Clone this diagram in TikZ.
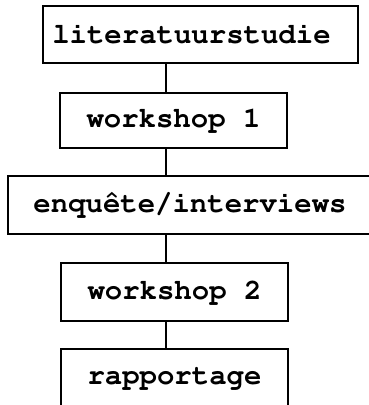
\documentclass[tikz,border=0pt]{standalone}
\usepackage[T1]{fontenc}
\tikzset{
  stap/.style={draw, line width=1.8pt, inner sep=0pt,
    font=\fontfamily{pcr}\fontseries{b}\fontsize{29}{31}\selectfont},
  verbind/.style={line width=1.5pt}
}

\begin{document}
\begin{tikzpicture}[x=1pt, y=-1pt]
  \useasboundingbox (0,0) rectangle (368,405);
  \coordinate (spine) at (166,0);

  \node[stap, minimum width=315pt, minimum height=57pt] (lit) at (200.5,34.5) {literatuurstudie\hspace*{18pt}};
  \node[stap, minimum width=227pt, minimum height=55pt] (ws1) at (173.5,120.5) {workshop 1};
  \node[stap, minimum width=364pt, minimum height=58pt] (enq) at (190,205) {enqu\^ete/interviews};
  \node[stap, minimum width=227pt, minimum height=58pt] (ws2) at (174.5,292) {workshop 2};
  \node[stap, minimum width=227pt, minimum height=58pt] (rap) at (174.5,378) {rapportage};

  \draw[verbind] (lit.south -| spine) -- (ws1.north -| spine);
  \draw[verbind] (ws1.south -| spine) -- (enq.north -| spine);
  \draw[verbind] (enq.south -| spine) -- (ws2.north -| spine);
  \draw[verbind] (ws2.south -| spine) -- (rap.north -| spine);
\end{tikzpicture}
\end{document}
